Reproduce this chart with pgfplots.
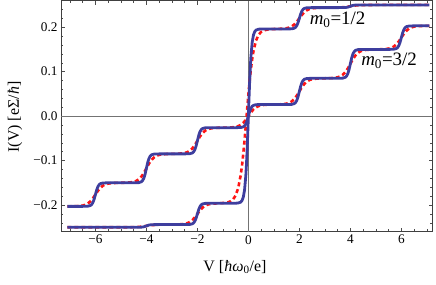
\documentclass[border=0pt]{standalone}
\usepackage{fontspec}
\setmainfont{Liberation Serif}
\usepackage{pgfplots}
\pgfplotsset{compat=1.18}
\definecolor{curveblue}{RGB}{62,62,158}
\definecolor{curvered}{RGB}{255,20,20}
\begin{document}
\begin{tikzpicture}
\path[use as bounding box] (-61bp,-53.3bp) rectangle (375bp,231.7bp);
\begin{axis}[
  scale only axis, width=371.7bp, height=231.2bp,
  xmin=-7.35, xmax=7.23, ymin=-0.26, ymax=0.26,
  axis line style={black!75, line width=0.5pt},
  tick align=inside,
  major tick length=4bp, minor tick length=2.5bp,
  tick style={black!70, line width=0.45pt},
  xtick={-6,-4,-2,0,2,4,6}, xticklabels={−6,−4,−2,0,2,4,6},
  ytick={-0.2,-0.1,0,0.1,0.2}, yticklabels={−0.2,−0.1,0.0,0.1,0.2},
  minor xtick={-7,-6.5,-6,-5.5,-5,-4.5,-4,-3.5,-3,-2.5,-2,-1.5,-1,-0.5,0,0.5,1,1.5,2,2.5,3,3.5,4,4.5,5,5.5,6,6.5,7},
  minor ytick={-0.24,-0.22,-0.18,-0.16,-0.14,-0.12,-0.08,-0.06,-0.04,-0.02,0.02,0.04,0.06,0.08,0.12,0.14,0.16,0.18,0.22,0.24},
  ticklabel style={font=\fontsize{13.3}{15}\selectfont},
  xlabel={V [\textit{ħω}\textsubscript{0}/e]},
  ylabel={I(V) [eΣ/\textit{ħ}]},
  xlabel style={at={(axis description cs:0.468,-0.1527)}, anchor=center, font=\fontsize{16}{18}\selectfont},
  ylabel style={at={(axis description cs:-0.1238,0.496)}, anchor=center, font=\fontsize{16}{18}\selectfont},
]
\addplot[black!55, line width=0.5pt, forget plot] coordinates {(-7.35,0) (7.23,0)};
\addplot[black!55, line width=0.5pt, forget plot] coordinates {(0,-0.26) (0,0.26)};

% red dashed, m0=3/2
\addplot[curvered, line width=2.6bp, dash pattern=on 4bp off 3bp] coordinates {
(-7.1,-0.2030) (-7.0,-0.2029) (-6.8,-0.2027) (-6.6,-0.2020) (-6.5,-0.2012) (-6.4,-0.1996) (-6.3,-0.1967) (-6.2,-0.1919) (-6.1,-0.1850) (-6.0,-0.1765) (-5.9,-0.1680) (-5.8,-0.1611) (-5.7,-0.1563) (-5.6,-0.1534) (-5.5,-0.1518) (-5.4,-0.1510) (-5.2,-0.1503) (-5.0,-0.1500)
(-4.8,-0.1497) (-4.6,-0.1488) (-4.5,-0.1478) (-4.4,-0.1458) (-4.3,-0.1423) (-4.2,-0.1364) (-4.1,-0.1280) (-4.0,-0.1175) (-3.9,-0.1070) (-3.8,-0.0986) (-3.7,-0.0928) (-3.6,-0.0892) (-3.5,-0.0872) (-3.4,-0.0862) (-3.2,-0.0853) (-3.0,-0.0850)
(-2.8,-0.0847) (-2.6,-0.0839) (-2.5,-0.0830) (-2.4,-0.0812) (-2.3,-0.0780) (-2.2,-0.0727) (-2.1,-0.0650) (-2.0,-0.0555) (-1.9,-0.0460) (-1.8,-0.0383) (-1.7,-0.0330) (-1.6,-0.0298) (-1.5,-0.0280) (-1.4,-0.0271) (-1.2,-0.0263) (-1.0,-0.0260)
(-0.8,-0.0258) (-0.6,-0.0251) (-0.5,-0.0242) (-0.4,-0.0226) (-0.3,-0.0198) (-0.2,-0.0152) (-0.1,-0.0084) (0,0) (0.1,0.0084) (0.2,0.0152) (0.3,0.0198) (0.4,0.0226) (0.5,0.0242) (0.6,0.0251) (0.8,0.0258)
(1.0,0.0260) (1.2,0.0263) (1.4,0.0271) (1.5,0.0280) (1.6,0.0298) (1.7,0.0330) (1.8,0.0383) (1.9,0.0460) (2.0,0.0555) (2.1,0.0650) (2.2,0.0727) (2.3,0.0780) (2.4,0.0812) (2.5,0.0830) (2.6,0.0839) (2.8,0.0847)
(3.0,0.0850) (3.2,0.0853) (3.4,0.0862) (3.5,0.0872) (3.6,0.0892) (3.7,0.0928) (3.8,0.0986) (3.9,0.1070) (4.0,0.1175) (4.1,0.1280) (4.2,0.1364) (4.3,0.1423) (4.4,0.1458) (4.5,0.1478) (4.6,0.1488) (4.8,0.1497)
(5.0,0.1500) (5.2,0.1503) (5.4,0.1510) (5.5,0.1518) (5.6,0.1534) (5.7,0.1563) (5.8,0.1611) (5.9,0.1680) (6.0,0.1765) (6.1,0.1850) (6.2,0.1919) (6.3,0.1967) (6.4,0.1996) (6.5,0.2012) (6.6,0.2020) (6.8,0.2027) (7.0,0.2029) (7.1,0.2030)
};
% red dashed, m0=1/2
\addplot[curvered, line width=2.6bp, dash pattern=on 4bp off 3bp] coordinates {
(-7.1,-0.2500) (-5.0,-0.2500) (-4.6,-0.2499) (-4.4,-0.2496) (-4.2,-0.2488) (-4.0,-0.2470) (-3.8,-0.2453) (-3.6,-0.2444) (-3.4,-0.2441) (-3.0,-0.2439)
(-2.8,-0.2438) (-2.6,-0.2431) (-2.5,-0.2423) (-2.4,-0.2409) (-2.3,-0.2383) (-2.2,-0.2340) (-2.1,-0.2277) (-2.0,-0.2200) (-1.9,-0.2123) (-1.8,-0.2060) (-1.7,-0.2017) (-1.6,-0.1991) (-1.5,-0.1977) (-1.4,-0.1969) (-1.2,-0.1962)
(-1.0,-0.1955) (-0.8,-0.1939) (-0.7,-0.1917) (-0.6,-0.1873) (-0.5,-0.1786) (-0.4,-0.1621) (-0.3,-0.1325) (-0.25,-0.1111) (-0.2,-0.0850) (-0.15,-0.0545) (-0.1,-0.0209) (-0.05,0.0140) (0,0.0480) (0.05,0.0792) (0.1,0.1062) (0.15,0.1286) (0.2,0.1463) (0.3,0.1700) (0.4,0.1828) (0.5,0.1894) (0.6,0.1928) (0.8,0.1952) (1.0,0.1958)
(1.2,0.1962) (1.4,0.1969) (1.5,0.1977) (1.6,0.1991) (1.7,0.2017) (1.8,0.2060) (1.9,0.2123) (2.0,0.2200) (2.1,0.2277) (2.2,0.2340) (2.3,0.2383) (2.4,0.2409) (2.5,0.2423) (2.6,0.2431) (2.8,0.2438)
(3.0,0.2439) (3.4,0.2441) (3.6,0.2444) (3.8,0.2453) (4.0,0.2470) (4.2,0.2488) (4.4,0.2496) (4.6,0.2499) (5.0,0.2500) (7.1,0.2500)
};
% blue solid, m0=3/2
\addplot[curveblue, line width=2.8bp] coordinates {
(-7.1,-0.2030) (-6.5,-0.2030) (-6.3,-0.2026) (-6.2,-0.2012) (-6.15,-0.1990) (-6.1,-0.1946) (-6.05,-0.1869) (-6.0,-0.1765) (-5.95,-0.1661) (-5.9,-0.1584) (-5.85,-0.1540) (-5.8,-0.1518) (-5.7,-0.1504) (-5.5,-0.1500)
(-4.5,-0.1500) (-4.3,-0.1496) (-4.2,-0.1478) (-4.15,-0.1451) (-4.1,-0.1397) (-4.05,-0.1303) (-4.0,-0.1175) (-3.95,-0.1047) (-3.9,-0.0953) (-3.85,-0.0899) (-3.8,-0.0872) (-3.7,-0.0854) (-3.5,-0.0850)
(-2.5,-0.0850) (-2.3,-0.0846) (-2.2,-0.0830) (-2.15,-0.0805) (-2.1,-0.0756) (-2.05,-0.0671) (-2.0,-0.0555) (-1.95,-0.0439) (-1.9,-0.0354) (-1.85,-0.0305) (-1.8,-0.0280) (-1.7,-0.0264) (-1.5,-0.0260)
(-0.5,-0.0260) (-0.3,-0.0257) (-0.2,-0.0242) (-0.15,-0.0221) (-0.1,-0.0177) (-0.05,-0.0102) (0,0) (0.05,0.0102) (0.1,0.0177) (0.15,0.0221) (0.2,0.0242) (0.3,0.0257) (0.5,0.0260)
(1.5,0.0260) (1.7,0.0264) (1.8,0.0280) (1.85,0.0305) (1.9,0.0354) (1.95,0.0439) (2.0,0.0555) (2.05,0.0671) (2.1,0.0756) (2.15,0.0805) (2.2,0.0830) (2.3,0.0846) (2.5,0.0850)
(3.5,0.0850) (3.7,0.0854) (3.8,0.0872) (3.85,0.0899) (3.9,0.0953) (3.95,0.1047) (4.0,0.1175) (4.05,0.1303) (4.1,0.1397) (4.15,0.1451) (4.2,0.1478) (4.3,0.1496) (4.5,0.1500)
(5.5,0.1500) (5.7,0.1504) (5.8,0.1518) (5.85,0.1540) (5.9,0.1584) (5.95,0.1661) (6.0,0.1765) (6.05,0.1869) (6.1,0.1946) (6.15,0.1990) (6.2,0.2012) (6.3,0.2026) (6.5,0.2030) (7.1,0.2030)
};
% blue solid, m0=1/2
\addplot[curveblue, line width=2.8bp] coordinates {
(-7.1,-0.2500) (-4.5,-0.2500) (-4.2,-0.2498) (-4.1,-0.2490) (-4.0,-0.2470) (-3.9,-0.2450) (-3.8,-0.2442) (-3.5,-0.2440)
(-2.5,-0.2440) (-2.3,-0.2437) (-2.2,-0.2423) (-2.15,-0.2404) (-2.1,-0.2364) (-2.05,-0.2295) (-2.0,-0.2200) (-1.95,-0.2105) (-1.9,-0.2036) (-1.85,-0.1996) (-1.8,-0.1977) (-1.7,-0.1963) (-1.5,-0.1960)
(-0.5,-0.1959) (-0.4,-0.1955) (-0.3,-0.1934) (-0.25,-0.1900) (-0.2,-0.1825) (-0.15,-0.1662) (-0.1,-0.1337) (-0.075,-0.1087) (-0.05,-0.0773) (-0.025,-0.0403) (0,0) (0.025,0.0403) (0.05,0.0773) (0.075,0.1087) (0.1,0.1337) (0.15,0.1662) (0.2,0.1825) (0.25,0.1900) (0.3,0.1934) (0.4,0.1955) (0.5,0.1959)
(1.5,0.1960) (1.7,0.1963) (1.8,0.1977) (1.85,0.1996) (1.9,0.2036) (1.95,0.2105) (2.0,0.2200) (2.05,0.2295) (2.1,0.2364) (2.15,0.2404) (2.2,0.2423) (2.3,0.2437) (2.5,0.2440)
(3.5,0.2440) (3.8,0.2442) (3.9,0.2450) (4.0,0.2470) (4.1,0.2490) (4.2,0.2498) (4.5,0.2500) (7.1,0.2500)
};
\node[font=\fontsize{19}{22}\selectfont] at (axis cs:3.5,0.2164) {\textit{m}\textsubscript{0}=1/2};
\node[font=\fontsize{19}{22}\selectfont] at (axis cs:5.52,0.125) {\textit{m}\textsubscript{0}=3/2};
\end{axis}
\end{tikzpicture}
\end{document}
